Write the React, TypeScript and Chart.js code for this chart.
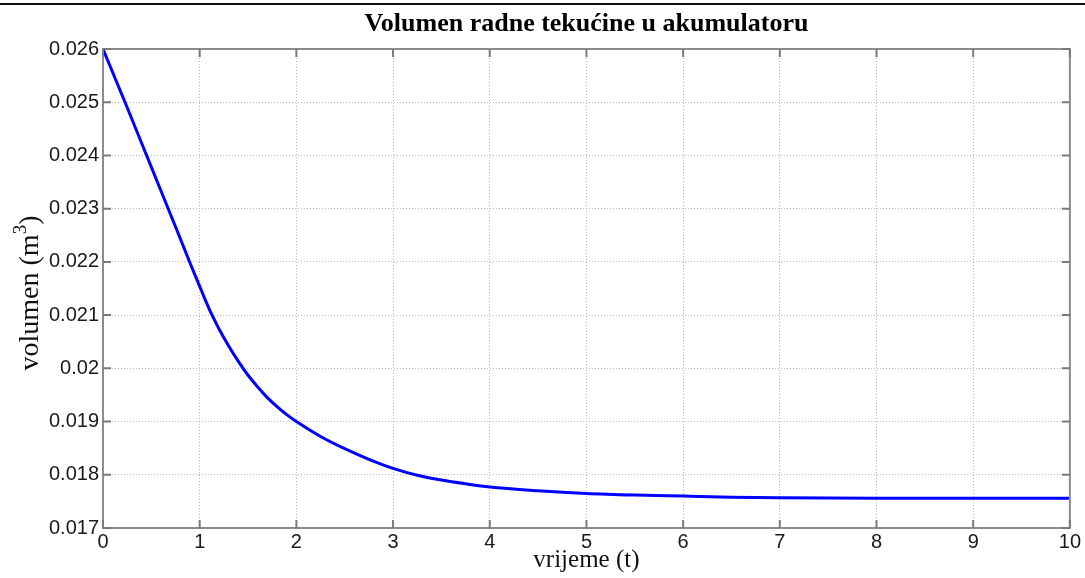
import React, { useEffect, useRef } from "react";
import { Chart, registerables } from "chart.js";

Chart.register(...registerables);

// ---- data ----
const timeValues: number[] = [0, 0.25, 0.5, 0.75, 0.9, 1.0, 1.05, 1.1, 1.15, 1.2, 1.3, 1.4, 1.5, 1.6, 1.7, 1.8, 1.9, 2.0, 2.25, 2.5, 2.75, 3.0, 3.25, 3.5, 3.75, 4.0, 4.5, 5.0, 5.5, 6.0, 6.5, 7.0, 8.0, 9.0, 10.0];
const volumeValues: number[] = [0.026, 0.0249, 0.02378, 0.02266, 0.02198, 0.02154, 0.02132, 0.02111, 0.02092, 0.02074, 0.02042, 0.02013, 0.01987, 0.01965, 0.01945, 0.01928, 0.01913, 0.019, 0.01872, 0.01849, 0.01829, 0.01812, 0.01799, 0.0179, 0.01783, 0.01777, 0.0177, 0.01765, 0.01762, 0.0176, 0.01758, 0.01757, 0.01756, 0.01756, 0.01756];
const xTickValues: number[] = [0, 1, 2, 3, 4, 5, 6, 7, 8, 9, 10];
const yTickValues: number[] = [0.017, 0.018, 0.019, 0.02, 0.021, 0.022, 0.023, 0.024, 0.025, 0.026];
const chartTitle = "Volumen radne tekućine u akumulatoru";
const xTitle = "vrijeme (t)";
const yTitleMain = "volumen (m";
const yTitleSup = "3";
const yTitleTail = ")";

const SERIF = "'Liberation Serif', 'Times New Roman', serif";
const SANS = "'Liberation Sans', Arial, sans-serif";

const framePlugin = {
  id: "matlabFrame",
  beforeDraw(chart: any) {
    const { ctx, width, height } = chart;
    ctx.save();
    ctx.fillStyle = "#ffffff";
    ctx.fillRect(0, 0, width, height);
    ctx.fillStyle = "#111111";
    ctx.fillRect(0, 3, width, 2);
    ctx.restore();
  },
  afterDraw(chart: any) {
    const { ctx, chartArea } = chart;
    const { left, right, top, bottom } = chartArea;
    const xs = chart.scales.x;
    const ys = chart.scales.y;
    ctx.save();
    // box
    ctx.strokeStyle = "#8c8c8c";
    ctx.lineWidth = 2;
    ctx.strokeRect(left, top, right - left, bottom - top);
    // inward ticks
    ctx.strokeStyle = "#7a7a7a";
    ctx.lineWidth = 2;
    const tl = 8;
    ctx.beginPath();
    xTickValues.forEach((v) => {
      const px = xs.getPixelForValue(v);
      ctx.moveTo(px, bottom);
      ctx.lineTo(px, bottom - tl);
      ctx.moveTo(px, top);
      ctx.lineTo(px, top + tl);
    });
    yTickValues.forEach((v) => {
      const py = ys.getPixelForValue(v);
      ctx.moveTo(left, py);
      ctx.lineTo(left + tl, py);
      ctx.moveTo(right, py);
      ctx.lineTo(right - tl, py);
    });
    ctx.stroke();

    // chart title, centred over the plot area
    ctx.fillStyle = "#000000";
    ctx.font = `bold 26px ${SERIF}`;
    ctx.textAlign = "center";
    ctx.textBaseline = "alphabetic";
    ctx.fillText(chartTitle, (left + right) / 2, 31);

    // y axis title with superscript
    ctx.fillStyle = "#111111";
    ctx.translate(38, 293);
    ctx.rotate(-Math.PI / 2);
    ctx.textBaseline = "alphabetic";
    ctx.textAlign = "left";
    const mainFont = `28px ${SERIF}`;
    const supFont = `19px ${SERIF}`;
    ctx.font = mainFont;
    const w1 = ctx.measureText(yTitleMain).width;
    const w3 = ctx.measureText(yTitleTail).width;
    ctx.font = supFont;
    const w2 = ctx.measureText(yTitleSup).width;
    const start = -(w1 + w2 + w3) / 2;
    ctx.font = mainFont;
    ctx.fillText(yTitleMain, start, 0);
    ctx.font = supFont;
    ctx.fillText(yTitleSup, start + w1, -12);
    ctx.font = mainFont;
    ctx.fillText(yTitleTail, start + w1 + w2, 0);
    ctx.restore();
  },
};

export default function App() {
  const canvasRef = useRef<HTMLCanvasElement | null>(null);

  useEffect(() => {
    document.body.style.margin = "0";
    const canvas = canvasRef.current;
    if (!canvas) return;
    const points = timeValues.map((t, i) => ({ x: t, y: volumeValues[i] }));
    const chart = new Chart(canvas, {
      type: "line",
      data: {
        datasets: [
          {
            data: points,
            borderColor: "#0000ff",
            borderWidth: 3,
            pointRadius: 0,
            fill: false,
            tension: 0.4,
            cubicInterpolationMode: "monotone",
          },
        ],
      },
      options: {
        animation: false,
        responsive: false,
        devicePixelRatio: 1,
        layout: { padding: { top: 49, right: 14, bottom: 0, left: 0 } },
        plugins: {
          legend: { display: false },
          tooltip: { enabled: false },
          title: { display: false },
        },
        scales: {
          x: {
            type: "linear",
            min: 0,
            max: 10,
            afterFit: (scale: any) => {
              scale.height = 50;
            },
            afterBuildTicks: (scale: any) => {
              scale.ticks = xTickValues.map((v) => ({ value: v }));
            },
            ticks: {
              color: "#1a1a1a",
              font: { family: SANS, size: 20, lineHeight: 1 },
              padding: 4,
              maxRotation: 0,
              autoSkip: false,
              callback: (v: any) => String(v),
            },
            grid: {
              color: "#b8b8b8",
              lineWidth: 1,
              drawTicks: false,
            },
            border: { display: false, dash: [1, 2] },
            title: {
              display: true,
              text: xTitle,
              color: "#111111",
              font: { family: SERIF, size: 25, lineHeight: 1.2 },
              padding: { top: 0, bottom: 3 },
            },
          },
          y: {
            type: "linear",
            min: 0.017,
            max: 0.026,
            afterFit: (scale: any) => {
              scale.width = 103;
            },
            afterBuildTicks: (scale: any) => {
              scale.ticks = yTickValues.map((v) => ({ value: v }));
            },
            ticks: {
              color: "#1a1a1a",
              font: { family: SANS, size: 20, lineHeight: 1 },
              padding: 4,
              autoSkip: false,
              callback: (v: any) => String(Number(Number(v).toFixed(3))),
            },
            grid: {
              color: "#b8b8b8",
              lineWidth: 1,
              drawTicks: false,
            },
            border: { display: false, dash: [1, 2] },
          },
        },
      },
      plugins: [framePlugin],
    } as any);
    return () => chart.destroy();
  }, []);

  return (
    <div style={{ width: 1085, height: 578, position: "relative" }}>
      <canvas ref={canvasRef} width={1085} height={578} style={{ display: "block" }} />
    </div>
  );
}
